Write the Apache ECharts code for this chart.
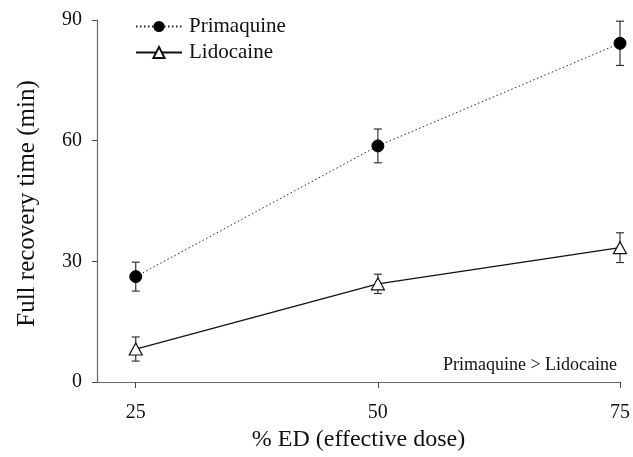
<!DOCTYPE html>
<html><head><meta charset="utf-8">
<script src="https://cdn.jsdelivr.net/npm/echarts@6/dist/echarts.min.js"></script>
<style>html,body{margin:0;padding:0;background:#fff}#c{width:633px;height:457px}</style>
</head><body><div id="c"></div>
<script>
var doses = [25, 50, 75];
var primaquine = [26.2, 58.7, 84.2];
var primaquineErr = [3.6, 4.2, 5.5];
var lidocaine = [8.2, 24.4, 33.4];
var lidocaineErr = [3.0, 2.4, 3.7];
var yTicks = [0, 30, 60, 90];

var FONT = '"Liberation Serif", "DejaVu Serif", serif';
function pairs(xs, ys){ return xs.map(function(x,i){return [x, ys[i]];}); }
function errData(xs, ys, es){ return xs.map(function(x,i){return [x, ys[i]-es[i], ys[i]+es[i]];}); }
function errRender(params, api){
  var x = api.value(0), lo = api.value(1), hi = api.value(2);
  var pLo = api.coord([x, lo]), pHi = api.coord([x, hi]);
  var w = 4;
  var st = {stroke:'#333', lineWidth:1.2};
  return {type:'group', children:[
    {type:'line', shape:{x1:pLo[0], y1:pLo[1], x2:pHi[0], y2:pHi[1]}, style:st},
    {type:'line', shape:{x1:pLo[0]-w, y1:pLo[1], x2:pLo[0]+w, y2:pLo[1]}, style:st},
    {type:'line', shape:{x1:pHi[0]-w, y1:pHi[1], x2:pHi[0]+w, y2:pHi[1]}, style:st}
  ]};
}
var chart = echarts.init(document.getElementById('c'));
chart.setOption({
  animation:false,
  backgroundColor:'#fff',
  grid:{left:97, right:11, top:20, bottom:75},
  legend:{
    left:130, top:11, orient:'vertical', itemWidth:46, itemHeight:14, itemGap:5,
    textStyle:{fontFamily:FONT, fontSize:21, color:'#111', padding:[0,0,0,2]},
    data:['Primaquine','Lidocaine']
  },
  xAxis:{
    type:'value', min:21, max:75,
    name:'% ED (effective dose)', nameLocation:'middle', nameGap:44,
    nameTextStyle:{fontFamily:FONT, fontSize:24, color:'#111'},
    axisLine:{lineStyle:{color:'#666', width:1.2}},
    axisTick:{show:true, length:6, customValues:doses, lineStyle:{color:'#444'}},
    axisLabel:{customValues:doses, margin:21, fontFamily:FONT, fontSize:20, color:'#111'},
    splitLine:{show:false}
  },
  yAxis:{
    type:'value', min:0, max:90, interval:30,
    name:'Full recovery time (min)', nameLocation:'middle', nameGap:57,
    nameTextStyle:{fontFamily:FONT, fontSize:25, color:'#111', padding:[0,5,0,0]},
    axisLine:{show:true, lineStyle:{color:'#666', width:1.2}},
    axisTick:{show:true, length:5, lineStyle:{color:'#444'}},
    axisLabel:{customValues:yTicks, margin:15, fontFamily:FONT, fontSize:20, color:'#111'},
    splitLine:{show:false}
  },
  graphic:[{type:'text', right:16, top:356, style:{text:'Primaquine > Lidocaine', font:'18px "Liberation Serif", serif', fill:'#111'}}],
  series:[
    {type:'custom', renderItem:errRender, data:errData(doses, primaquine, primaquineErr), z:1, silent:true},
    {type:'custom', renderItem:errRender, data:errData(doses, lidocaine, lidocaineErr), z:1, silent:true},
    {name:'Primaquine', type:'line', data:pairs(doses, primaquine), symbol:'circle', symbolSize:12,
     lineStyle:{color:'#222', width:1, type:[1.5,2.5]}, itemStyle:{color:'#000', borderColor:'#000'}, z:3},
    {name:'Lidocaine', type:'line', data:pairs(doses, lidocaine), symbol:'triangle', symbolSize:[13,12],
     lineStyle:{color:'#111', width:1.3, type:'solid'}, itemStyle:{color:'#fff', borderColor:'#111', borderWidth:1.2}, z:3}
  ]
});
</script></body></html>
